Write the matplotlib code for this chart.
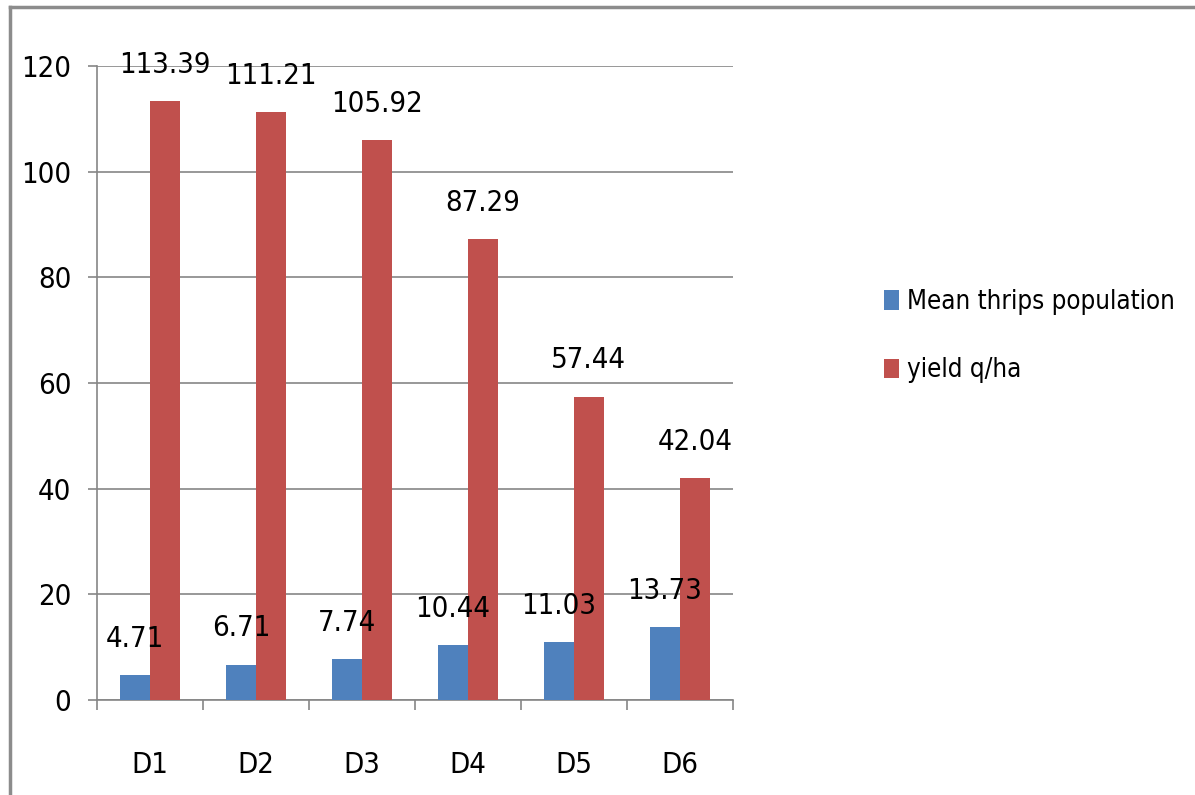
import matplotlib
matplotlib.use("Agg")
import matplotlib.pyplot as plt
from matplotlib.lines import Line2D
import numpy as np

categories = ["D1", "D2", "D3", "D4", "D5", "D6"]
thrips = [4.71, 6.71, 7.74, 10.44, 11.03, 13.73]
yield_qha = [113.39, 111.21, 105.92, 87.29, 57.44, 42.04]
series_names = ["Mean thrips population", "yield q/ha"]

# narrow font, close to the original Calibri look
plt.rcParams['font.family'] = ['DejaVu Sans']
plt.rcParams['font.stretch'] = 'condensed'

blue = "#4F81BD"
red = "#C0504D"
grid = "#868686"

fig = plt.figure(figsize=(11.95, 7.95), dpi=100)
ax = fig.add_axes([0.0812, 0.1195, 0.532, 0.7975])

x = np.arange(len(categories))
w = 0.283
b1 = ax.bar(x - w / 2, thrips, w, color=blue, label=series_names[0], zorder=3)
b2 = ax.bar(x + w / 2, yield_qha, w, color=red, label=series_names[1], zorder=3)

# data labels
for bars, vals in [(b1, thrips), (b2, yield_qha)]:
    for rect, v in zip(bars, vals):
        ax.annotate("{:.2f}".format(v), (rect.get_x() + rect.get_width() / 2, v),
                    xytext=(0, 26), textcoords="offset points",
                    ha="center", va="center", fontsize=21, color="black", zorder=4)

ax.set_xlim(-0.5, len(categories) - 0.5)
ax.set_ylim(0, 120)
ax.set_yticks(np.arange(0, 121, 20))
ax.yaxis.grid(True, color=grid, linewidth=1.2, zorder=0)
ax.set_axisbelow(True)

ax.set_xticks(x)
ax.set_xticklabels(categories)
ax.set_xticks(np.arange(-0.5, len(categories)), minor=True)
ax.tick_params(axis="x", which="major", length=0, pad=37, labelsize=21)
ax.tick_params(axis="x", which="minor", length=7, width=1.2, color=grid, direction="out")
ax.tick_params(axis="y", length=6.5, width=1.2, color=grid, pad=12, labelsize=21)

for s in ["top", "right"]:
    ax.spines[s].set_visible(False)
for s in ["left", "bottom"]:
    ax.spines[s].set_color(grid)
    ax.spines[s].set_linewidth(1.2)

leg = fig.legend(handles=[b1, b2], labels=series_names, loc="center left",
                 bbox_to_anchor=(0.72, 0.577), frameon=False, fontsize=18.5,
                 handlelength=0.6, handleheight=0.78, handletextpad=0.31,
                 labelspacing=1.65)

# outer chart border
fig.add_artist(Line2D([0.0084, 0.0084], [-0.1, 0.991], transform=fig.transFigure,
                      color="#8c8c8c", linewidth=2.5))
fig.add_artist(Line2D([0.0084, 1.1], [0.991, 0.991], transform=fig.transFigure,
                      color="#8c8c8c", linewidth=2.5))

fig.savefig("out.png", dpi=100)
